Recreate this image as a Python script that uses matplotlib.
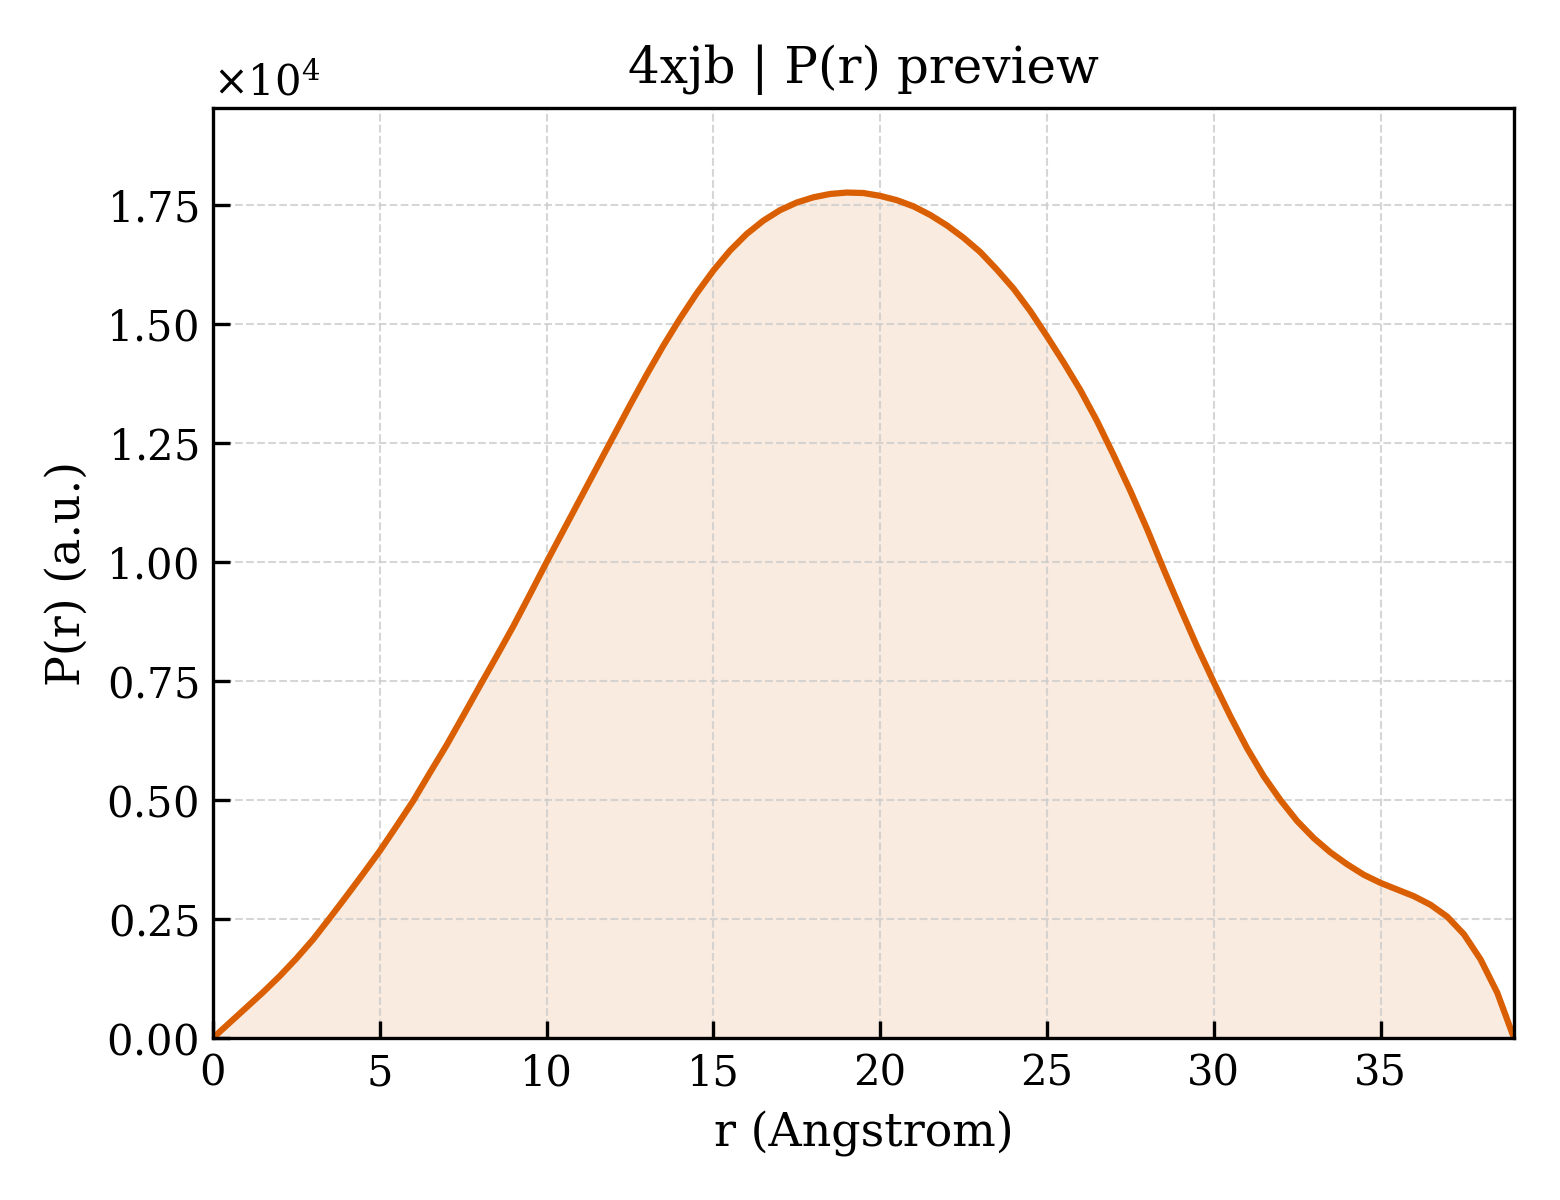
import matplotlib
matplotlib.use("Agg")
import matplotlib.pyplot as plt
import numpy as np

plt.rcParams['font.family'] = ['DejaVu Serif']
plt.rcParams['mathtext.fontset'] = 'dejavuserif'

r = [0, 0.5, 1, 1.5, 2, 2.5, 3, 3.5, 4, 4.5, 5, 5.5, 6, 6.5, 7, 7.5, 8, 8.5,
     9, 9.5, 10, 10.5, 11, 11.5, 12, 12.5, 13, 13.5, 14, 14.5, 15, 15.5, 16,
     16.5, 17, 17.5, 18, 18.5, 19, 19.5, 20, 20.5, 21, 21.5, 22, 22.5, 23,
     23.5, 24, 24.5, 25, 25.5, 26, 26.5, 27, 27.5, 28, 28.5, 29, 29.5, 30,
     30.5, 31, 31.5, 32, 32.5, 33, 33.5, 34, 34.5, 35, 35.5, 36, 36.5, 37,
     37.5, 38, 38.5, 39.0]
pr = [0.0, 0.032, 0.064, 0.096, 0.130, 0.167, 0.207, 0.252, 0.298, 0.345,
      0.393, 0.445, 0.498, 0.557, 0.615, 0.677, 0.74, 0.802, 0.865, 0.932,
      1.0, 1.066, 1.132, 1.198, 1.264, 1.33, 1.394, 1.455, 1.512, 1.565,
      1.613, 1.655, 1.69, 1.718, 1.74, 1.756, 1.767, 1.774, 1.777, 1.776,
      1.770, 1.761, 1.748, 1.730, 1.708, 1.682, 1.652, 1.615, 1.575, 1.528,
      1.475, 1.42, 1.362, 1.297, 1.225, 1.15, 1.07, 0.985, 0.903, 0.823,
      0.748, 0.676, 0.609, 0.55, 0.50, 0.456, 0.42, 0.39, 0.365, 0.343,
      0.326, 0.312, 0.298, 0.28, 0.255, 0.218, 0.165, 0.095, 0.0]
scale = 1e4

r = np.array(r)
p = np.array(pr) * scale

color = '#d95f02'
fig, ax = plt.subplots(figsize=(5.2, 4.0), dpi=300)
ax.fill_between(r, 0, p, color=color, alpha=0.12, linewidth=0)
ax.plot(r, p, color=color, lw=1.5)

ax.set_xlim(0, r.max())
ax.set_ylim(0, p.max() * 1.1)
ax.set_xticks([0, 5, 10, 15, 20, 25, 30, 35])
ax.set_yticks(np.array([0, 0.25, 0.5, 0.75, 1.0, 1.25, 1.5, 1.75]) * scale)
ax.ticklabel_format(axis='y', style='sci', scilimits=(0, 0), useMathText=True)
ax.grid(True, linestyle='--', linewidth=0.5, color='#cccccc', alpha=0.8)
ax.tick_params(direction='in', length=4, width=0.8, labelsize=10)
for s in ax.spines.values():
    s.set_linewidth(0.8)
ax.yaxis.get_offset_text().set_fontsize(10)

ax.set_xlabel('r (Angstrom)', fontsize=11)
ax.set_ylabel('P(r) (a.u.)', fontsize=11)
ax.set_title('4xjb | P(r) preview', fontsize=12)

fig.subplots_adjust(left=0.1365, right=0.9705, bottom=0.135, top=0.91)
fig.savefig('out.png', dpi=300)
